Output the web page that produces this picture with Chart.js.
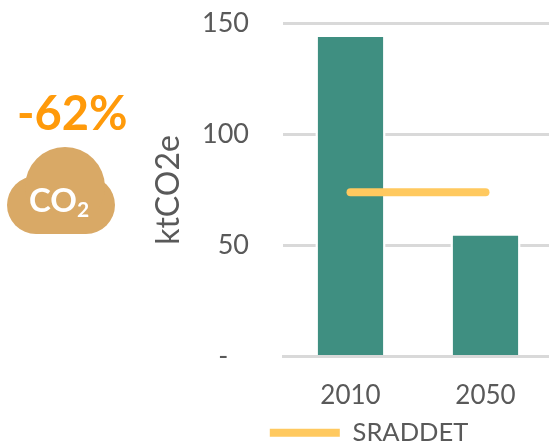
<!DOCTYPE html>
<html>
<head>
<meta charset="utf-8">
<title>ktCO2e</title>
<script src="https://cdn.jsdelivr.net/npm/chart.js@4/dist/chart.umd.min.js"></script>
<style>
    html, body { margin: 0; padding: 0; background: #fff; overflow: hidden; }
    #wrap { position: relative; width: 549px; height: 446px; overflow: hidden; }
    #chart { position: absolute; left: 0; top: 0; }
    #pct { position: absolute; left: 17px; top: 84px; font: bold 47px Lato, sans-serif; color: #FF9A0A; white-space: nowrap; }
    #cloud { position: absolute; left: 0; top: 140px; }
</style>
</head>
<body>
<div id="wrap">
    <canvas id="chart" width="553" height="446"></canvas>
    <div id="pct">-62%</div>
    <svg id="cloud" width="125" height="100" viewBox="0 140 125 100">
        <g fill="#D9A966">
            <circle cx="36" cy="205" r="29"/>
            <circle cx="86" cy="205" r="29"/>
            <circle cx="65" cy="187" r="40"/>
            <rect x="36" y="190" width="50" height="44"/>
        </g>
        <text x="29" y="212" font-family="Lato, sans-serif" font-weight="bold" font-size="33" fill="#fff">CO</text>
        <text x="77" y="217" font-family="Lato, sans-serif" font-weight="bold" font-size="21" fill="#fff">2</text>
    </svg>
</div>
<script>
const categories = ['2010', '2050'];
const emissions = [145, 55.5];
const sraddet = [74, 74];
const yTickValues = [0, 50, 100, 150];

const textColor = '#595959';
const gridColor = '#D9D9D9';

// la legende est centree sur le canvas par defaut, on la decale sous le graphique
const moveLegend = {
    id: 'moveLegend',
    afterLayout(chart) {
        const legend = chart.legend;
        const w = legend.right - legend.left;
        legend.left = 369 - w / 2;
        legend.right = legend.left + w;
        legend.top += 9.5;
        legend.bottom += 9.5;
    }
};

new Chart(document.getElementById('chart').getContext('2d'), {
    type: 'bar',
    data: {
        labels: categories,
        datasets: [{
            label: 'Emissions',
            data: emissions,
            backgroundColor: '#3F8F81',
            borderColor: '#fff',
            borderWidth: 2.5,
            categoryPercentage: 0.52,
            barPercentage: 1,
            order: 2
        }, {
            label: 'SRADDET',
            type: 'line',
            data: sraddet,
            borderColor: '#FFC95F',
            backgroundColor: '#FFC95F',
            borderWidth: 8,
            borderCapStyle: 'round',
            pointRadius: 0,
            order: 1
        }]
    },
    options: {
        responsive: false,
        animation: false,
        layout: { padding: { top: 23.5, left: 0, right: 0, bottom: 0 } },
        scales: {
            x: {
                grid: { display: false },
                border: { display: true, color: gridColor, width: 3, z: 1 },
                ticks: { color: textColor, font: { family: 'Lato', size: 26 }, padding: 16, maxRotation: 0 },
                afterFit: s => { s.height = 54; }
            },
            y: {
                min: 0,
                max: 150,
                afterBuildTicks: s => { s.ticks = yTickValues.map(v => ({ value: v })); },
                // tickLength transparent pour decoler les labels sans toucher au haut du graphique
                grid: { color: gridColor, lineWidth: 3, drawTicks: true, tickLength: 30, tickColor: 'rgba(0,0,0,0)' },
                border: { display: false },
                ticks: {
                    color: textColor,
                    font: { family: 'Lato', size: 27 },
                    padding: 4,
                    // format comptable : le tiret du zero n'est pas colle a droite
                    callback: v => v === 0 ? '-\u00A0\u00A0\u00A0' : v
                },
                title: {
                    display: true,
                    text: 'ktCO2e',
                    color: textColor,
                    font: { family: 'Lato', size: 32 },
                    padding: { top: 149, bottom: 0 }
                },
                afterFit: s => { s.width = 283; }
            }
        },
        plugins: {
            tooltip: { enabled: false },
            legend: {
                position: 'bottom',
                labels: {
                    filter: item => item.text === 'SRADDET',
                    usePointStyle: true,
                    pointStyle: 'line',
                    pointStyleWidth: 70,
                    color: textColor,
                    font: { family: 'Lato', size: 25.5 },
                    padding: 0
                }
            }
        }
    },
    plugins: [moveLegend]
});
</script>
</body>
</html>
